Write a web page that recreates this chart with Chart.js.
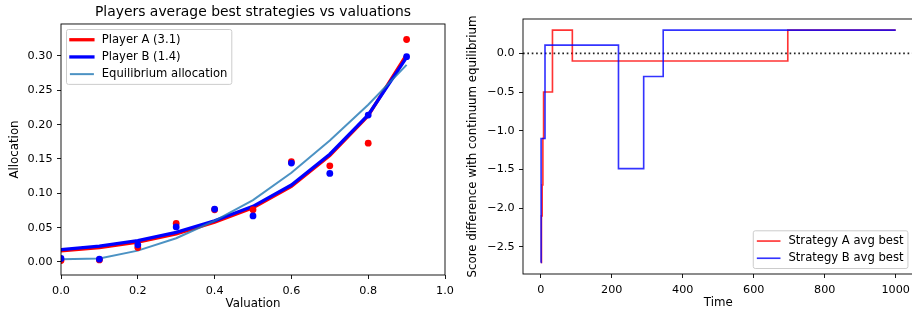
<!DOCTYPE html>
<html>
<head>
<meta charset="utf-8">
<script src="https://cdn.jsdelivr.net/npm/chart.js@4/dist/chart.umd.min.js"></script>
<style>
  body { margin: 0; background: #fff; }
  #wrap { position: relative; width: 912px; height: 314px; overflow: hidden; background: #fff; }
  canvas { position: absolute; top: 0; }
</style>
</head>
<body>
<div id="wrap">
  <canvas id="alloc" width="470" height="314" style="left:0;width:470px;height:314px"></canvas>
  <canvas id="score" width="460" height="314" style="left:455px;width:460px;height:314px"></canvas>
</div>
<script>
// left chart: allocation vs valuation
const valuations = [0, 0.1, 0.2, 0.3, 0.4, 0.5, 0.6, 0.7, 0.8, 0.9];
const playerAFit = [0.016, 0.021, 0.029, 0.041, 0.058, 0.079, 0.110, 0.155, 0.213, 0.302];
const playerBFit = [0.018, 0.023, 0.031, 0.043, 0.060, 0.081, 0.112, 0.157, 0.214, 0.298];
const equilibrium = [0.004, 0.005, 0.0165, 0.0345, 0.060, 0.090, 0.130, 0.177, 0.229, 0.287];
const playerAPoints = [0.002, 0.003, 0.021, 0.056, 0.076, 0.076, 0.146, 0.140, 0.173, 0.324];
const playerBPoints = [0.005, 0.004, 0.025, 0.051, 0.077, 0.067, 0.144, 0.129, 0.214, 0.299];
const valTicks = [0, 0.2, 0.4, 0.6, 0.8, 1.0];
const valLabels = ['0.0', '0.2', '0.4', '0.6', '0.8', '1.0'];
const allocTicks = [0, 0.05, 0.10, 0.15, 0.20, 0.25, 0.30];
const allocLabels = ['0.00', '0.05', '0.10', '0.15', '0.20', '0.25', '0.30'];

// right chart: score difference over time
const timeA = [0, 2, 4, 6, 8, 33, 89, 696, 1000];
const scoreA = [-2.7, -2.1, -1.7, -1.1, -0.5, 0.3, -0.1, 0.3, 0.3];
const timeB = [0, 1, 12, 219, 290, 345, 1000];
const scoreB = [-2.7, -1.1, 0.105, -1.49, -0.3, 0.3, 0.3];
const zeroTimes = [-50, 1050];
const zeroScores = [0, 0];
const timeTicks = [0, 200, 400, 600, 800, 1000];
const timeLabels = ['0', '200', '400', '600', '800', '1000'];
const scoreTicks = [-2.5, -2.0, -1.5, -1.0, -0.5, 0.0];
const scoreLabels = ['\u22122.5', '\u22122.0', '\u22121.5', '\u22121.0', '\u22120.5', '0.0'];

Chart.defaults.font.family = '"DejaVu Sans"';
Chart.defaults.font.size = 11;
Chart.defaults.color = '#000';

function pairs(xs, ys) {
    return xs.map((x, i) => ({x: x, y: ys[i]}));
}

const framePlugin = {
    id: 'frame',
    afterDatasetsDraw(chart) {
        const ctx = chart.ctx;
        const a = chart.chartArea;
        ctx.save();
        ctx.strokeStyle = '#000';
        ctx.lineWidth = 0.9;
        ctx.strokeRect(a.left, a.top, a.right - a.left, a.bottom - a.top);
        ctx.restore();
    }
};

// matplotlib style legend box
const boxLegend = {
    id: 'boxLegend',
    afterDraw(chart, args, opts) {
        const ctx = chart.ctx;
        const a = chart.chartArea;
        const f = 11;
        const items = chart.data.datasets.filter(d => d.label);
        ctx.save();
        ctx.font = '11.6px "DejaVu Sans"';
        const textW = Math.max(...items.map(d => ctx.measureText(d.label).width));
        const pad = 0.4 * f, handle = 2 * f, gap = 0.8 * f, rowH = 11.7, spacing = 0.5 * f, axPad = 0.5 * f;
        const w = pad + handle + gap + textW + pad;
        const h = 2 * pad + items.length * rowH + (items.length - 1) * spacing;
        const x = opts.corner === 'tl' ? a.left + axPad : a.right - axPad - w;
        const y = opts.corner === 'tl' ? a.top + axPad : a.bottom - axPad - h;
        ctx.fillStyle = 'rgba(255,255,255,0.8)';
        ctx.strokeStyle = '#cccccc';
        ctx.lineWidth = 1;
        ctx.beginPath();
        ctx.roundRect(x, y, w, h, 2);
        ctx.fill();
        ctx.stroke();
        items.forEach((d, i) => {
            const cy = y + pad + rowH / 2 + i * (rowH + spacing);
            ctx.beginPath();
            ctx.strokeStyle = d.borderColor;
            ctx.lineWidth = d.borderWidth;
            ctx.lineCap = 'square';
            ctx.moveTo(x + pad, cy);
            ctx.lineTo(x + pad + handle, cy);
            ctx.stroke();
            ctx.fillStyle = '#000';
            ctx.textBaseline = 'middle';
            ctx.fillText(d.label, x + pad + handle + gap, cy);
        });
        ctx.restore();
    }
};

function axis(min, max, ticks, labels, fitSize, horizontal, title, titlePad) {
    return {
        type: 'linear',
        position: horizontal ? 'bottom' : 'left',
        min: min,
        max: max,
        afterBuildTicks: s => { s.ticks = ticks.map(v => ({value: v})); },
        afterFit: s => { if (horizontal) s.height = fitSize; else s.width = fitSize; },
        ticks: {
            padding: horizontal ? 5 : 4.5,
            autoSkip: false,
            maxRotation: 0,
            color: '#000',
            font: {size: 11.2},
            callback: (v, i) => labels[i]
        },
        grid: {display: true, drawOnChartArea: false, drawTicks: true, tickLength: 4, tickColor: '#000', tickWidth: 0.9},
        border: {display: false},
        title: {display: true, text: title, color: '#000', font: {size: 11.8}, padding: titlePad}
    };
}

new Chart(document.getElementById('alloc'), {
    type: 'scatter',
    data: {
        datasets: [
            {label: 'Player A (3.1)', data: pairs(valuations, playerAFit), showLine: true, borderColor: 'red', borderWidth: 3.3, pointRadius: 0, tension: 0, order: 5, clip: 0},
            {label: 'Player B (1.4)', data: pairs(valuations, playerBFit), showLine: true, borderColor: 'blue', borderWidth: 3.3, pointRadius: 0, tension: 0, order: 4, clip: 0},
            {label: 'Equilibrium allocation', data: pairs(valuations, equilibrium), showLine: true, borderColor: 'rgba(31,119,180,0.8)', borderWidth: 2, pointRadius: 0, tension: 0, order: 3, clip: 0},
            {data: pairs(valuations, playerAPoints), backgroundColor: 'red', borderWidth: 0, pointRadius: 3.4, order: 2, clip: 0},
            {data: pairs(valuations, playerBPoints), backgroundColor: 'blue', borderWidth: 0, pointRadius: 3.4, order: 1, clip: 0}
        ]
    },
    options: {
        responsive: false,
        animation: false,
        devicePixelRatio: 1,
        layout: {padding: {left: 0, right: 25, top: 0, bottom: 0}},
        plugins: {
            legend: {display: false},
            tooltip: {enabled: false},
            title: {display: true, fullSize: false, text: 'Players average best strategies vs valuations', color: '#000',
                    font: {size: 13.9, weight: 'normal', lineHeight: 1.15}, padding: {top: 4.5, bottom: 3.5}},
            boxLegend: {corner: 'tl'}
        },
        scales: {
            x: axis(0, 1, valTicks, valLabels, 39, true, 'Valuation', {top: 0, bottom: 3.0}),
            y: axis(-0.019, 0.3466, allocTicks, allocLabels, 61, false, 'Allocation', {top: 8.0, bottom: 0})
        }
    },
    plugins: [framePlugin, boxLegend]
});

new Chart(document.getElementById('score'), {
    type: 'scatter',
    data: {
        datasets: [
            {label: 'Strategy A avg best', data: pairs(timeA, scoreA), showLine: true, stepped: 'before', borderColor: 'rgba(255,0,0,0.8)', borderWidth: 1.65, pointRadius: 0, order: 2, clip: 0},
            {label: 'Strategy B avg best', data: pairs(timeB, scoreB), showLine: true, stepped: 'before', borderColor: 'rgba(0,0,255,0.8)', borderWidth: 1.65, pointRadius: 0, order: 1, clip: 0},
            {data: pairs(zeroTimes, zeroScores), showLine: true, borderColor: '#222', borderWidth: 1.65, borderDash: [1.65, 2.72], pointRadius: 0, order: 3, clip: 0}
        ]
    },
    options: {
        responsive: false,
        animation: false,
        devicePixelRatio: 1,
        layout: {padding: {left: 0, right: 1.5, top: 19, bottom: 0}},
        plugins: {
            legend: {display: false},
            tooltip: {enabled: false},
            boxLegend: {corner: 'br'}
        },
        scales: {
            x: axis(-50, 1050, timeTicks, timeLabels, 40, true, 'Time', {top: 0, bottom: 4.0}),
            y: axis(-2.85, 0.443, scoreTicks, scoreLabels, 68, false, 'Score difference with continuum equilibrium', {top: 11.0, bottom: 0})
        }
    },
    plugins: [framePlugin, boxLegend]
});
</script>
</body>
</html>
